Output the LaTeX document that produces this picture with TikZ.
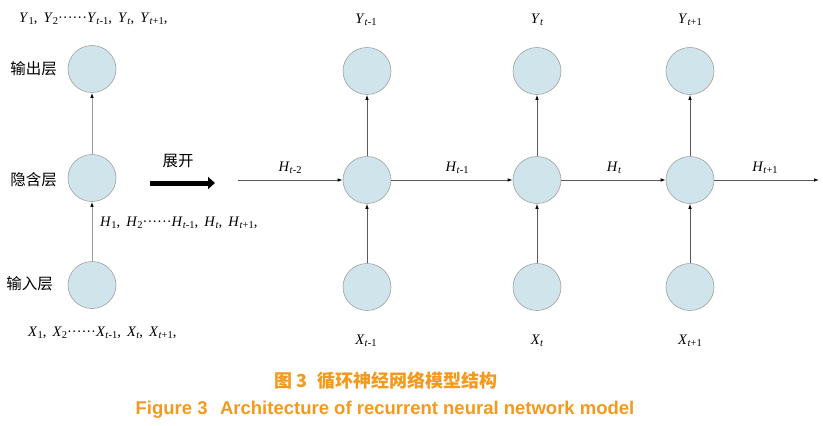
\documentclass[tikz,border=0pt]{standalone}
\usepackage{fontspec}
\setmainfont{Liberation Serif}
\newfontfamily\cjk{Noto Sans CJK SC}
\newfontfamily\capsans{Liberation Sans}
\usetikzlibrary{arrows.meta,shapes.geometric}
\definecolor{cellfill}{HTML}{D0E5EB}
\definecolor{celledge}{HTML}{A0A0A0}
\definecolor{linedark}{HTML}{5A5A5A}
\definecolor{linelight}{HTML}{9A9A9A}
\definecolor{captionorange}{HTML}{F39A1E}
\newcommand{\sbs}[1]{\raisebox{-0.35ex}{\fontsize{10.5}{10.5}\selectfont #1}}
\newcommand{\vv}[2]{\textit{#1}\sbs{\textit{t}#2}}
\newcommand{\cm}{,\hspace{2.5pt} }
\begin{document}
\begin{tikzpicture}[x=1pt,y=-1pt,
  cell/.style={ellipse,draw=celledge,fill=cellfill,line width=0.6pt,minimum width=48pt,minimum height=47pt,inner sep=0pt},
  lbl/.style={font=\fontsize{14.5}{16}\selectfont,inner sep=0pt},
  cn/.style={font=\cjk\fontsize{15.5}{17}\selectfont,inner sep=0pt},
  conn/.style={draw=linedark,line width=0.8pt,-{Latex[length=5pt,width=3.5pt,black]}},
  connl/.style={draw=linelight,line width=0.9pt,-{Latex[length=5pt,width=3.5pt,black]}},
  bigarrow/.style={draw=black,line width=5pt,-{Triangle[length=7pt,width=12pt]}},
  capcn/.style={font=\cjk\bfseries\fontsize{18}{20}\selectfont,text=captionorange,inner sep=0pt},
  capen/.style={font=\capsans\bfseries\fontsize{18.5}{20}\selectfont,text=captionorange,inner sep=0pt}]
\useasboundingbox (0,0) rectangle (823,426);
% left column
\node[cell] (lo) at (92,69) {};
\node[cell] (lh) at (92,178) {};
\node[cell] (li) at (92,285) {};
\draw[connl] (lh) -- (lo);
\draw[connl] (li) -- (lh);
\node[cn,anchor=east] (tlo) at (57,69) {输出层};
\node[cn,anchor=east] (tlh) at (57,180) {隐含层};
\node[cn,anchor=east] (tli) at (53,284) {输入层};
\node[lbl,anchor=west] (ly) at (19,19) {\textit{Y}\sbs{1}\cm\textit{Y}\sbs{2}······\vv{Y}{-1}\cm\vv{Y}{}\cm\vv{Y}{+1},};
\node[lbl,anchor=west] (lhx) at (100,223) {\textit{H}\sbs{1}\cm\textit{H}\sbs{2}······\vv{H}{-1}\cm\vv{H}{}\cm\vv{H}{+1},};
\node[lbl,anchor=west] (lx) at (28,333) {\textit{X}\sbs{1}\cm\textit{X}\sbs{2}······\vv{X}{-1}\cm\vv{X}{}\cm\vv{X}{+1},};
% unfold arrow
\node[cn] (unf) at (178,161) {展开};
\coordinate (ua) at (150,183);
\coordinate (ub) at (215,183);
\draw[bigarrow] (ua) -- (ub);
% right columns
\foreach \n/\x in {a/367,b/537,c/690}{
  \node[cell] (o\n) at (\x,71) {};
  \node[cell] (h\n) at (\x,180) {};
  \node[cell] (i\n) at (\x,287) {};
  \draw[conn] (h\n) -- (o\n);
  \draw[conn] (i\n) -- (h\n);
}
\coordinate (hs) at (238,180);
\coordinate (he) at (819,180);
\draw[conn] (hs) -- (ha);
\draw[conn] (ha) -- (hb);
\draw[conn] (hb) -- (hc);
\draw[conn] (hc) -- (he);
\node[lbl] (ya) at (366,20) {\vv{Y}{-1}};
\node[lbl] (yb) at (537,20) {\vv{Y}{}};
\node[lbl] (yc) at (690,20) {\vv{Y}{+1}};
\node[lbl] (xa) at (366,341) {\vv{X}{-1}};
\node[lbl] (xb) at (537,341) {\vv{X}{}};
\node[lbl] (xc) at (690,341) {\vv{X}{+1}};
\node[lbl] (hl0) at (290,168) {\vv{H}{-2}};
\node[lbl] (hl1) at (457,168) {\vv{H}{-1}};
\node[lbl] (hl2) at (614,168) {\vv{H}{}};
\node[lbl] (hl3) at (765,168) {\vv{H}{+1}};
% caption
\node[capcn] (c1) at (386,381) {图 3\hspace{0.6em}循环神经网络模型结构};
\node[capen] (c2) at (385,410) {Figure 3\hspace{0.4em} Architecture of recurrent neural network model};
\end{tikzpicture}
\end{document}
